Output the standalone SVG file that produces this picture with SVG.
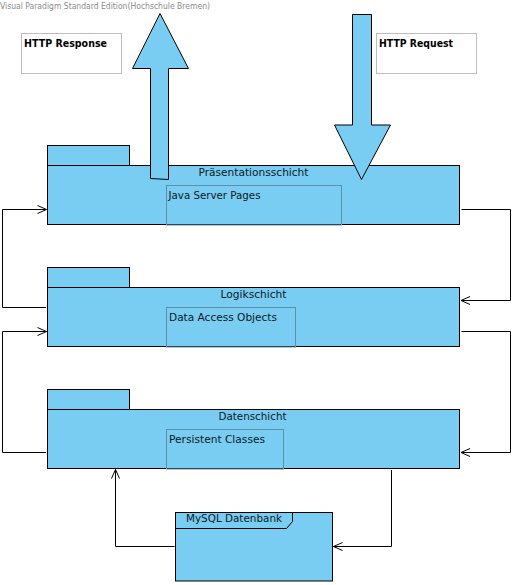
<svg xmlns="http://www.w3.org/2000/svg" width="514" height="585" viewBox="0 0 514 585">
<style>
.pkg{fill:#7acdf2;stroke:#000;stroke-width:1}
.inner{fill:none;stroke:#5e8fa6;stroke-width:1}
.note{fill:#fff;stroke:#bdbdbd;stroke-width:1}
.t{font-family:"DejaVu Sans","Liberation Sans",sans-serif;font-size:11px;fill:#0b1a24}
.b{font-family:"DejaVu Sans","Liberation Sans",sans-serif;font-size:11px;font-weight:bold;fill:#000}
.wm{font-family:"DejaVu Sans","Liberation Sans",sans-serif;font-size:8px;fill:#8a8a8a}
.c{fill:none;stroke:#000;stroke-width:1}
</style>
<defs>
<marker id="ah" markerWidth="12" markerHeight="10" refX="10" refY="5" orient="auto" markerUnits="userSpaceOnUse">
<path d="M1,1 L10,5 L1,9" fill="none" stroke="#000" stroke-width="1"/>
</marker>
</defs>
<rect width="514" height="585" fill="#fff"/>
<text class="wm" x="0" y="9" textLength="210" lengthAdjust="spacingAndGlyphs">Visual Paradigm Standard Edition(Hochschule Bremen)</text>

<g id="note-response">
<rect class="note" x="21.5" y="33.5" width="100" height="40"/>
<text class="b" x="24" y="47" textLength="83" lengthAdjust="spacingAndGlyphs">HTTP Response</text>
</g>
<g id="note-request">
<rect class="note" x="376.5" y="33.5" width="100" height="40"/>
<text class="b" x="379" y="47" textLength="74" lengthAdjust="spacingAndGlyphs">HTTP Request</text>
</g>

<g id="praesentation">
<rect class="pkg" x="47.5" y="145.5" width="82" height="20"/>
<rect class="pkg" x="47.5" y="165.5" width="412" height="59"/>
<text class="t" x="253.5" y="176" text-anchor="middle" textLength="110" lengthAdjust="spacingAndGlyphs">Präsentationsschicht</text>
<rect class="inner" x="166.5" y="185.5" width="175" height="39.5"/>
<text class="t" x="168.5" y="199" textLength="92" lengthAdjust="spacingAndGlyphs">Java Server Pages</text>
</g>

<g id="logik">
<rect class="pkg" x="47.5" y="267.5" width="82" height="20"/>
<rect class="pkg" x="47.5" y="287.5" width="412" height="59"/>
<text class="t" x="253.5" y="298" text-anchor="middle" textLength="66" lengthAdjust="spacingAndGlyphs">Logikschicht</text>
<rect class="inner" x="166.5" y="307.5" width="129" height="39.5"/>
<text class="t" x="169" y="321" textLength="108" lengthAdjust="spacingAndGlyphs">Data Access Objects</text>
</g>

<g id="daten">
<rect class="pkg" x="47.5" y="389.5" width="82" height="20"/>
<rect class="pkg" x="47.5" y="409.5" width="412" height="59"/>
<text class="t" x="252.5" y="420" text-anchor="middle" textLength="68" lengthAdjust="spacingAndGlyphs">Datenschicht</text>
<rect class="inner" x="166.5" y="429.5" width="117" height="39.5"/>
<text class="t" x="169" y="443" textLength="96" lengthAdjust="spacingAndGlyphs">Persistent Classes</text>
</g>

<g id="mysql">
<rect class="pkg" x="175.5" y="512.5" width="157" height="68.5"/>
<path class="c" d="M175.5,528.5 H286.5 L292.5,521.5 V512.5"/>
<text class="t" x="186" y="522" textLength="96" lengthAdjust="spacingAndGlyphs">MySQL Datenbank</text>
</g>

<g id="arrow-response">
<path class="pkg" d="M160,13.5 L188.5,68.5 L168.5,68.5 L168.5,179.5 L150.5,178.5 L150.5,68.5 L132.5,68.5 Z"/>
</g>
<g id="arrow-request">
<path class="pkg" d="M352.5,14.5 L371.5,14.5 L371.5,125 L390.5,125 L361.5,179.5 L334.5,125 L352.5,125 Z"/>
</g>

<g id="connectors">
<path class="c" d="M461.5,209.5 H510.5 V300.5 H461" marker-end="url(#ah)"/>
<path class="c" d="M46,307.5 H2.5 V209.5 H46.5" marker-end="url(#ah)"/>
<path class="c" d="M461.5,331.5 H510.5 V452.5 H461" marker-end="url(#ah)"/>
<path class="c" d="M46,452.5 H2.5 V331.5 H46.5" marker-end="url(#ah)"/>
<path class="c" d="M391.5,470 V546.5 H333.5" marker-end="url(#ah)"/>
<path class="c" d="M174.5,546.5 H115.5 V469.5" marker-end="url(#ah)"/>
</g>
</svg>
